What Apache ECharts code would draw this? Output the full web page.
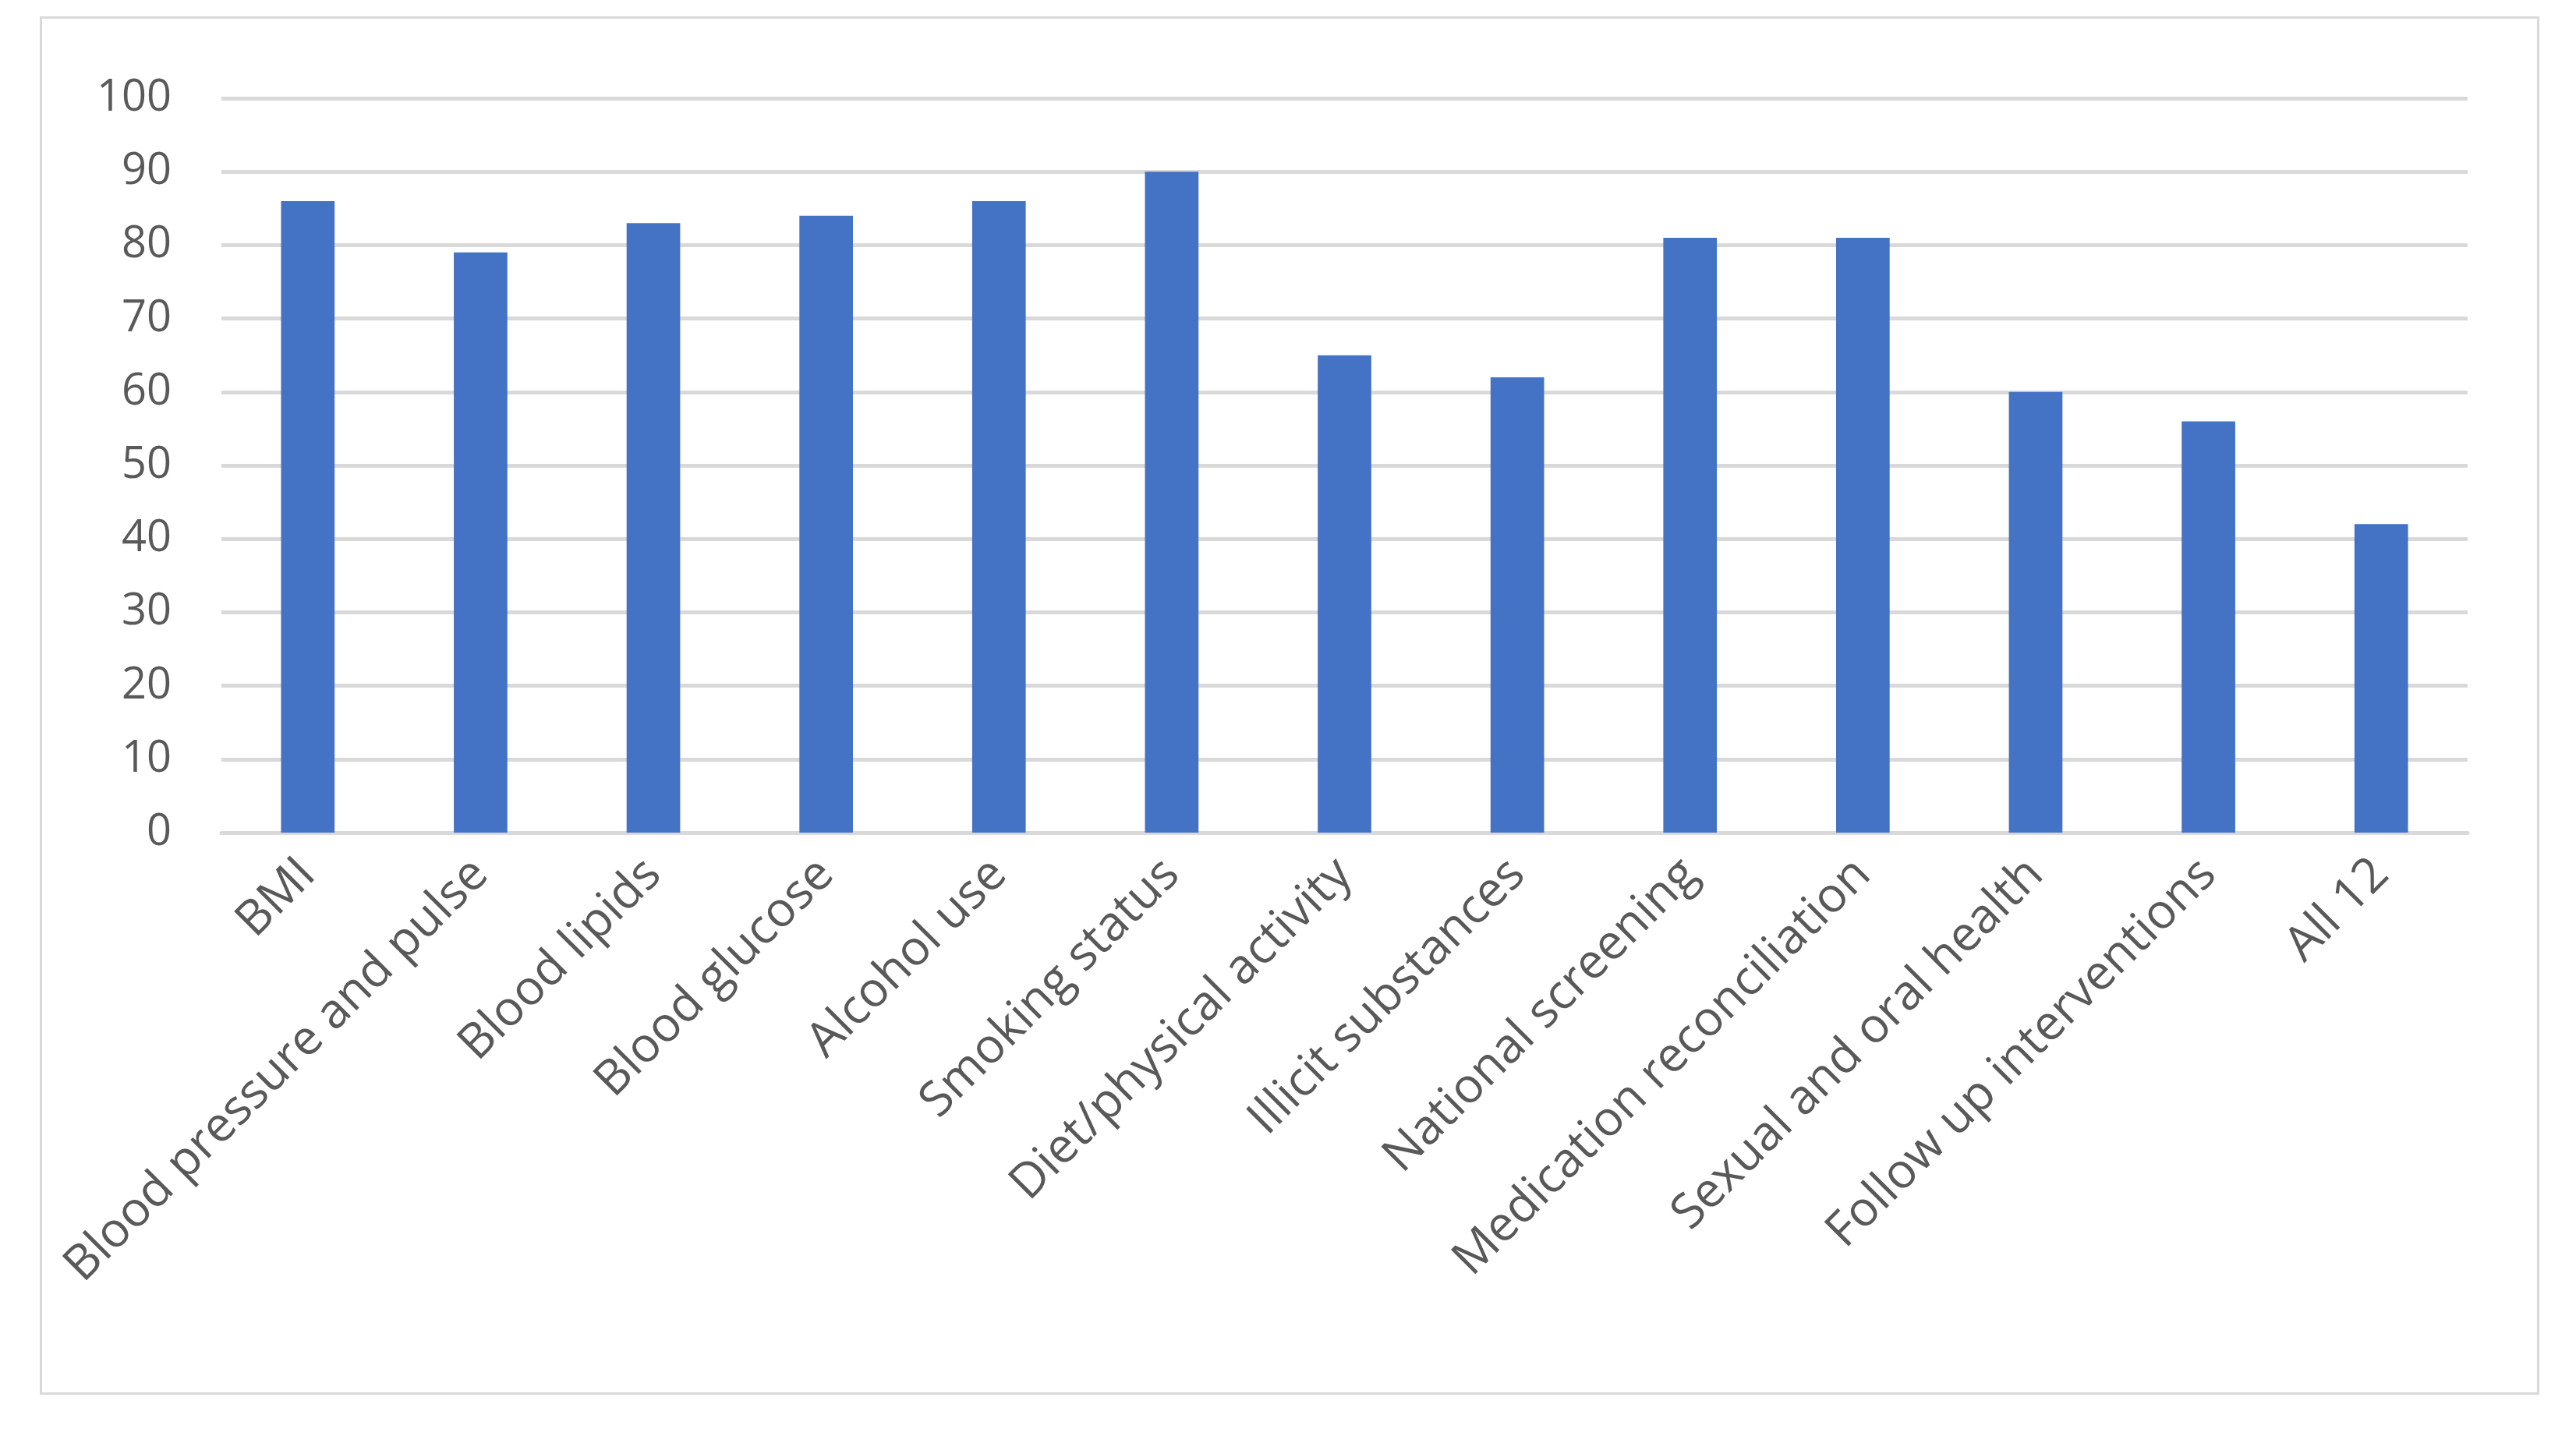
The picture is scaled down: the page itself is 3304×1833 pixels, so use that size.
<!DOCTYPE html>
<html><head><meta charset="utf-8">
<script src="https://cdn.jsdelivr.net/npm/echarts@6/dist/echarts.min.js"></script>
<style>html,body{margin:0;background:#fff}#main{width:3304px;height:1833px}
#box{position:absolute;left:51px;top:21px;width:3200px;height:1762px;border:3px solid #d9d9d9;pointer-events:none}</style>
</head><body><div id="main"></div><div id="box"></div>
<script>
var categories = ['BMI','Blood pressure and pulse','Blood lipids','Blood glucose','Alcohol use','Smoking status','Diet/physical activity','Illicit substances','National screening','Medication reconciliation','Sexual and oral health','Follow up interventions','All 12'];
var values = [86,79,83,84,86,90,65,62,81,81,60,56,42];
var chart = echarts.init(document.getElementById('main'));
chart.setOption({
  animation: false,
  grid: {left: 284, right: 139, top: 126, bottom: 765},
  xAxis: {
    type: 'category', data: categories,
    axisLine: {lineStyle: {color: '#d9d9d9', width: 5}},
    axisTick: {show: false},
    axisLabel: {rotate: 45, interval: 0, color: '#595959', fontSize: 62, fontFamily: 'Open Sans', margin: 44}
  },
  yAxis: {
    type: 'value', min: 0, max: 100, interval: 10,
    axisLine: {show: false}, axisTick: {show: false},
    splitLine: {lineStyle: {color: '#d9d9d9', width: 5}},
    axisLabel: {color: '#595959', fontSize: 56, fontFamily: 'Open Sans', margin: 64}
  },
  series: [{type: 'bar', data: values, barWidth: '31%', itemStyle: {color: '#4472c4'}}]
});
</script></body></html>
